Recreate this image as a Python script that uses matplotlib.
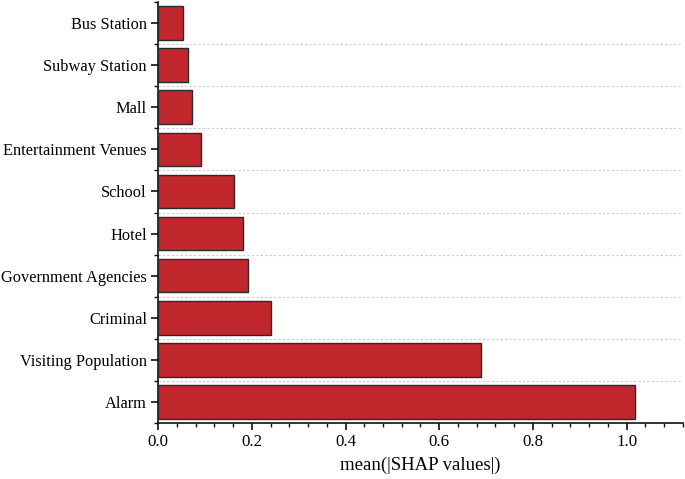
import matplotlib
matplotlib.use("Agg")
import matplotlib.pyplot as plt
from matplotlib.ticker import MultipleLocator, FixedLocator
import numpy as np

features = ["Alarm", "Visiting Population", "Criminal", "Government Agencies", "Hotel",
            "School", "Entertainment Venues", "Mall", "Subway Station", "Bus Station"]
values = [1.018, 0.689, 0.241, 0.192, 0.181, 0.162, 0.092, 0.072, 0.064, 0.053]
xticks = [0.0, 0.2, 0.4, 0.6, 0.8, 1.0]
xlabel = "mean(|SHAP values|)"

plt.rcParams['font.family'] = ['Liberation Serif', 'DejaVu Serif']

fig = plt.figure(figsize=(6.85, 4.79), dpi=100)
ax = fig.add_axes([158/685, 1 - 423/479, (683-158)/685, (423-2)/479])

y = np.arange(len(features))
ax.barh(y, values, height=0.8, color="#C1272D", edgecolor="#2a2a2a", linewidth=1.0, zorder=3)

ax.set_ylim(-0.5, len(features) - 0.5)
ax.set_xlim(0, 1.12)
ax.set_yticks(y)
ax.set_yticklabels(features, fontsize=11.8)
ax.yaxis.set_minor_locator(FixedLocator(np.arange(-0.5, len(features), 1.0)))
ax.set_xticks(xticks)
ax.set_xticklabels([f"{t:.1f}" for t in xticks], fontsize=12.2)
ax.xaxis.set_minor_locator(MultipleLocator(0.04))

for b in np.arange(0.5, len(features) - 1, 1.0):
    ax.axhline(b, linestyle=(0, (2, 2)), color="#cccccc", linewidth=0.8, zorder=0)

for s in ["top", "right"]:
    ax.spines[s].set_visible(False)
for s in ["left", "bottom"]:
    ax.spines[s].set_linewidth(1.2)
    ax.spines[s].set_color("#111111")

ax.tick_params(which="major", direction="out", length=5, width=1.2, color="#111111", pad=3)
ax.tick_params(which="minor", direction="out", length=3, width=1.0, color="#111111")

ax.set_xlabel(xlabel, fontsize=13.5, labelpad=5)

fig.savefig("out.png", dpi=100)
